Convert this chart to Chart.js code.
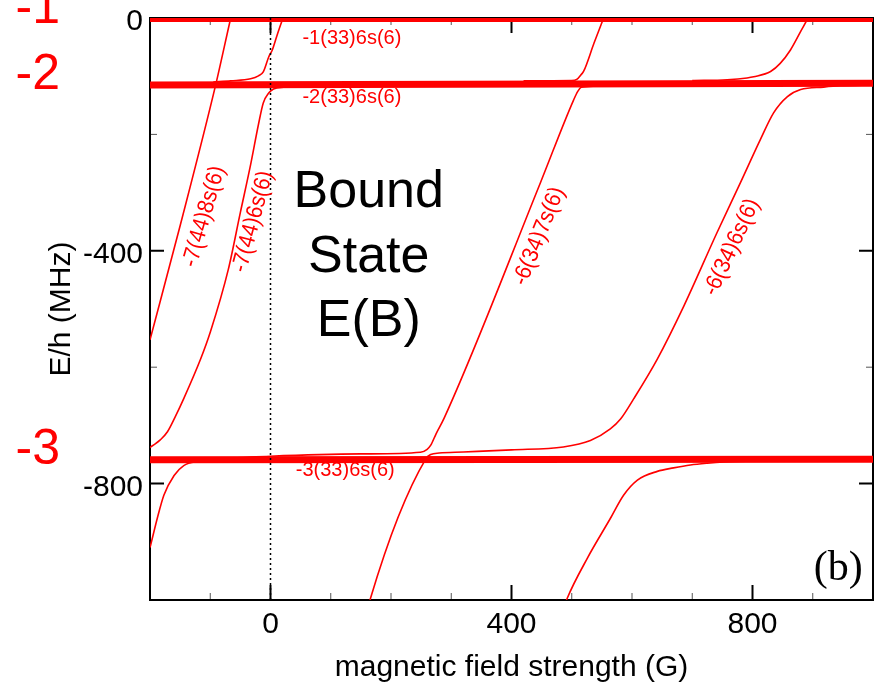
<!DOCTYPE html>
<html>
<head>
<meta charset="utf-8">
<title>Bound state E(B)</title>
<script src="https://cdn.jsdelivr.net/npm/chart.js@4.4.1/dist/chart.umd.min.js"></script>
<style>
  html, body { margin: 0; padding: 0; background: #fff; }
  #wrap { width: 875px; height: 692px; }
</style>
</head>
<body>
<div id="wrap"><canvas id="boundChart" width="875" height="692"></canvas></div>
<script>
// ---- data (field in G, energy E/h in MHz) ----
const xTicks = [0, 400, 800];
const xMinorTicks = [-100, 100, 200, 300, 500, 600, 700, 900];
const yTicks = [-800, -400, 0];
const yMinorTicks = [-200, -600];

// thresholds, as [field, energy] at both ends
const threshold1 = [[-200, -1], [1000, -1]];
const threshold2 = [[-200, -115], [1000, -112]];
const threshold3 = [[-200, -759], [1000, -758]];
const thresholdNames = ['-1', '-2', '-3'];

// -7(44)8s(6)
const curveA = [[-200, -553], [-150, -357], [-91, -115], [-66, 0], [-61, 22]];
// -7(44)6s(6), lower part coming into threshold -2
const curveB = [[-200, -738], [-196, -735], [-183, -725], [-171, -711], [-158, -685], [-144, -654],
  [-116, -586], [-100, -540], [-70, -432], [-50, -334], [-33, -252], [-20, -183], [-12, -146],
  [-3, -129], [5, -122], [22, -119], [80, -117]];
// branch leaving threshold -2 upwards near 0 G
const curveB2 = [[-95, -110], [-66, -108], [-33, -104.5], [-20, -99.5], [-12, -92.5], [-3, -67],
  [3, -55], [12, -26], [20, -2], [25, 12]];
// -6(34)7s(6) from below, bending onto -3 and going on as -6(34)6s(6)
const curveC = [[163, -1010], [166, -997], [258, -757], [266, -750], [280, -747.5], [320, -745.7],
  [400, -742], [486, -737], [531, -726], [564, -706], [581, -689], [603, -654], [642, -586],
  [686, -495], [741, -369], [780, -283], [813, -209], [835, -163], [858, -135], [880, -123],
  [918, -118.7], [946, -116.5], [1000, -115]];
// branch along -3 from the left, rising as -6(34)7s(6) up to -2
const curveC2 = [[-121, -759], [0, -753], [150, -749], [249, -746], [260, -741], [266, -734],
  [275, -714], [288, -688], [448, -283], [503, -141], [510, -126], [516, -119], [540, -117]];
// continuation above -2
const curveC3 = [[420, -108], [500, -107.5], [509, -105], [515, -98], [520, -91], [537, -43],
  [553, 0], [556, 8]];
// upper right branch above -2
const curveD2 = [[700, -107.5], [758, -106], [791, -103], [802, -101], [830, -92], [846, -78],
  [863, -55], [880, -23], [891, -2], [895, 8]];
// lower left branch below -3
const curveE = [[-200, -910], [-199, -906], [-188, -860], [-177, -820], [-160, -786], [-144, -769],
  [-122, -762], [-88, -760], [-40, -759.5]];
// lower right branch below -3
const curveF = [[488, -1010], [492.5, -997], [526, -928], [564, -860], [586, -820], [609, -794],
  [642, -779], [669, -773], [697, -768], [725, -765], [752, -763], [819, -761], [880, -760]];
const zeroField = [[0, -1000], [0, 0]];

// text labels: [text, field, energy, angle in degrees]
const curveLabels = [
  ['-7(44)8s(6)', -110, -341, 74],
  ['-7(44)6s(6)', -29, -350, 75],
  ['-6(34)7s(6)', 446, -375, 68],
  ['-6(34)6s(6)', 766, -394, 65]
];
const thresholdLabels = [
  ['-1(33)6s(6)', 53, -36],
  ['-2(33)6s(6)', 53, -137],
  ['-3(33)6s(6)', 42, -778]
];
const boundLines = [['Bound', 163, -325], ['State', 163, -437], ['E(B)', 163, -546]];

const RED = '#ff0000';
const SANS = '"Liberation Sans", Arial, sans-serif';

const toPts = arr => arr.map(([x, y]) => ({ x, y }));
const thick = arr => ({ data: toPts(arr), borderColor: RED, borderWidth: 7, pointRadius: 0 });
const thin = arr => ({
  data: toPts(arr), borderColor: RED, borderWidth: 1.6, pointRadius: 0,
  cubicInterpolationMode: 'monotone'
});

// inner ticks, frame and text annotations
const framePlugin = {
  id: 'frame',
  beforeDatasetsDraw(chart) {
    const { ctx, chartArea: a, scales: { x, y } } = chart;
    ctx.save();
    const tickX = (vals, len, w, col) => {
      ctx.lineWidth = w;
      ctx.strokeStyle = col;
      ctx.beginPath();
      vals.forEach(v => {
        const px = x.getPixelForValue(v);
        ctx.moveTo(px, a.bottom); ctx.lineTo(px, a.bottom - len);
        ctx.moveTo(px, a.top); ctx.lineTo(px, a.top + len);
      });
      ctx.stroke();
    };
    const tickY = (vals, len, w, col) => {
      ctx.lineWidth = w;
      ctx.strokeStyle = col;
      ctx.beginPath();
      vals.forEach(v => {
        const py = y.getPixelForValue(v);
        ctx.moveTo(a.left, py); ctx.lineTo(a.left + len, py);
        ctx.moveTo(a.right, py); ctx.lineTo(a.right - len, py);
      });
      ctx.stroke();
    };
    tickX(xTicks, 15, 2, '#000');
    tickX(xMinorTicks, 7, 1, '#555');
    tickY(yTicks, 14, 2, '#000');
    tickY(yMinorTicks, 7, 1, '#555');
    ctx.lineWidth = 2;
    ctx.strokeStyle = '#000';
    ctx.strokeRect(a.left, a.top, a.right - a.left, a.bottom - a.top);
    ctx.restore();
  },
  afterDatasetsDraw(chart) {
    const { ctx, chartArea: a, scales: { x, y } } = chart;
    ctx.save();
    ctx.fillStyle = RED;
    ctx.font = '20px ' + SANS;
    ctx.textBaseline = 'middle';
    ctx.textAlign = 'left';
    thresholdLabels.forEach(([t, fx, fy]) => {
      ctx.fillText(t, x.getPixelForValue(fx), y.getPixelForValue(fy));
    });
    // labels along the sloping states, slightly tall glyphs like the original
    ctx.font = '21px ' + SANS;
    ctx.textAlign = 'center';
    curveLabels.forEach(([t, fx, fy, ang]) => {
      ctx.save();
      ctx.translate(x.getPixelForValue(fx), y.getPixelForValue(fy));
      ctx.rotate(-ang * Math.PI / 180);
      ctx.scale(1, 1.1);
      ctx.fillText(t, 0, 0);
      ctx.restore();
    });
    // threshold numbers outside the frame
    ctx.font = '50px ' + SANS;
    ctx.textAlign = 'right';
    ctx.textBaseline = 'alphabetic';
    [threshold1, threshold2, threshold3].forEach((th, i) => {
      ctx.fillText(thresholdNames[i], a.left - 90, y.getPixelForValue(th[0][1]) + 4);
    });
    ctx.fillStyle = '#000';
    ctx.font = '52px ' + SANS;
    ctx.textAlign = 'center';
    boundLines.forEach(([t, fx, fy]) => {
      ctx.fillText(t, x.getPixelForValue(fx), y.getPixelForValue(fy));
    });
    ctx.font = '42px "Liberation Serif", "Times New Roman", serif';
    ctx.textAlign = 'right';
    ctx.fillText('(b)', x.getPixelForValue(983), y.getPixelForValue(-966));
    ctx.restore();
  }
};

const ctx = document.getElementById('boundChart');
new Chart(ctx, {
  type: 'line',
  data: {
    datasets: [
      {
        data: toPts(zeroField), borderColor: '#000', borderWidth: 1.5,
        borderDash: [2, 3], pointRadius: 0
      },
      thick(threshold1),
      thick(threshold2),
      thick(threshold3),
      thin(curveA),
      thin(curveB),
      thin(curveB2),
      thin(curveC),
      thin(curveC2),
      thin(curveC3),
      thin(curveD2),
      thin(curveE),
      thin(curveF)
    ]
  },
  options: {
    responsive: false,
    devicePixelRatio: 1,
    animation: false,
    layout: { padding: { top: 18, right: 2, bottom: 0, left: 0 } },
    plugins: {
      legend: { display: false },
      tooltip: { enabled: false }
    },
    scales: {
      x: {
        type: 'linear',
        min: -200,
        max: 1000,
        afterBuildTicks: s => { s.ticks = xTicks.map(v => ({ value: v })); },
        afterFit: s => { s.height = 92; s.paddingLeft = 0; s.paddingRight = 0; },
        grid: { display: false, drawTicks: false },
        border: { display: true, color: '#000', width: 2 },
        ticks: {
          color: '#000', padding: 7, autoSkip: false, maxRotation: 0,
          font: { family: SANS, size: 30 },
          callback: v => String(v)
        },
        title: {
          display: true,
          text: 'magnetic field strength (G)',
          color: '#000',
          font: { family: SANS, size: 30 },
          padding: { top: 0, bottom: 6 }
        }
      },
      y: {
        type: 'linear',
        min: -1000,
        max: 0,
        afterBuildTicks: s => { s.ticks = yTicks.map(v => ({ value: v })); },
        afterFit: s => { s.width = 150; s.paddingTop = 0; s.paddingBottom = 0; },
        grid: { display: false, drawTicks: false },
        border: { display: true, color: '#000', width: 2 },
        ticks: {
          color: '#000', padding: 7, autoSkip: false, labelOffset: 4,
          font: { family: SANS, size: 30 },
          callback: v => String(v)
        },
        title: {
          display: true,
          text: 'E/h (MHz)',
          color: '#000',
          font: { family: SANS, size: 30 },
          padding: { top: 44, bottom: 0 }
        }
      }
    }
  },
  plugins: [framePlugin]
});
</script>
</body>
</html>
